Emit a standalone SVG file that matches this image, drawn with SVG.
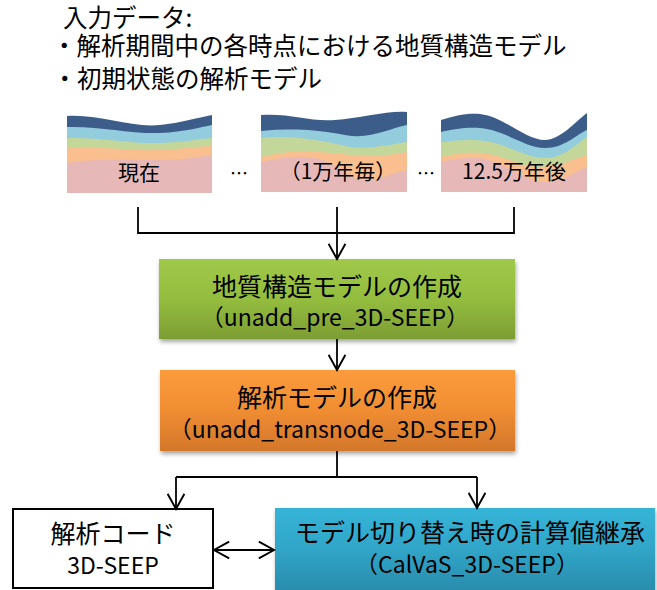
<svg xmlns="http://www.w3.org/2000/svg" width="657" height="590" viewBox="0 0 657 590">
  <style>
    text { font-family: "Noto Sans CJK JP", "Noto Sans", sans-serif; fill: #000; }
    .title { font-size: 24.5px; }
    .box-title { font-size: 25px; text-anchor: middle; }
    .box-sub { font-size: 23px; text-anchor: middle; }
    .panel-label { font-size: 21px; text-anchor: middle; }
    .dots { font-size: 18px; text-anchor: middle; }
    .conn { fill: none; stroke: #000; stroke-width: 1.8; }
    .navy { fill: #3c5d8a; }
    .sky { fill: #93cddd; }
    .lime { fill: #c4d79b; }
    .peach { fill: #f9bf8f; }
    .rose { fill: #e6b9b8; }
  </style>
  <defs>
    <marker id="arrow" markerUnits="userSpaceOnUse" markerWidth="18" markerHeight="18" viewBox="0 0 16 16" refX="14" refY="8" orient="auto-start-reverse">
      <path d="M0.5,0.5 L14,8 L0.5,15.5" fill="none" stroke="#000" stroke-width="1.7"/>
    </marker>
    <linearGradient id="gGreen" x1="0" y1="0" x2="0" y2="1">
      <stop offset="0" stop-color="#a0c94a"/>
      <stop offset="0.5" stop-color="#94bd3f"/>
      <stop offset="1" stop-color="#7d9d33"/>
    </linearGradient>
    <linearGradient id="gOrange" x1="0" y1="0" x2="0" y2="1">
      <stop offset="0" stop-color="#fc9c3c"/>
      <stop offset="0.5" stop-color="#f08d32"/>
      <stop offset="1" stop-color="#d3772b"/>
    </linearGradient>
    <linearGradient id="gBlue" x1="0" y1="0" x2="0" y2="1">
      <stop offset="0" stop-color="#36b4d8"/>
      <stop offset="0.5" stop-color="#30a5c7"/>
      <stop offset="1" stop-color="#2a8bab"/>
    </linearGradient>
    <filter id="shadow" x="-10%" y="-10%" width="120%" height="130%">
      <feDropShadow dx="1" dy="3" stdDeviation="2" flood-color="#000" flood-opacity="0.35"/>
    </filter>
    <clipPath id="clip1"><rect x="67" y="100" width="145" height="93"/></clipPath>
    <clipPath id="clip2"><rect x="261" y="100" width="146" height="92"/></clipPath>
    <clipPath id="clip3"><rect x="441" y="100" width="146" height="92"/></clipPath>
  </defs>

  <!-- input data heading -->
  <g id="input-heading">
    <text class="title" x="63" y="27">入力データ:</text>
    <text class="title" x="52" y="55" font-size="25.6">・解析期間中の各時点における地質構造モデル</text>
    <text class="title" x="52.5" y="88">・初期状態の解析モデル</text>
  </g>

  <!-- geological cross-section: present -->
  <g id="section-present" clip-path="url(#clip1)">
    <path class="navy" d="M67,116 C100,114 130,128 160,125 C180,123 200,117 212,115 L212,193 L67,193 Z"/>
    <path class="sky" d="M67,127 C100,126 130,134 160,133 C185,132 200,127 212,125 L212,193 L67,193 Z"/>
    <path class="lime" d="M67,138 C100,137 130,144 160,143 C185,142 200,139 212,138 L212,193 L67,193 Z"/>
    <path class="peach" d="M67,148 C100,146 130,151 160,150 C185,149 200,146 212,146 L212,193 L67,193 Z"/>
    <path class="rose" d="M67,163 C100,158 130,160 160,160 C185,160 200,156 212,155 L212,193 L67,193 Z"/>
    <text class="panel-label" x="139" y="180">現在</text>
  </g>

  <text class="dots" x="239" y="180">…</text>

  <!-- geological cross-section: every 10,000 years -->
  <g id="section-interval" clip-path="url(#clip2)">
    <path class="navy" d="M261,115 C290,113 310,122 335,120 C360,118 390,110 407,112 L407,192 L261,192 Z"/>
    <path class="sky" d="M261,131 C290,128 320,130 345,135 C370,140 390,128 407,125 L407,192 L261,192 Z"/>
    <path class="lime" d="M261,138 C290,135 320,140 345,146 C365,150 390,145 407,142 L407,192 L261,192 Z"/>
    <path class="peach" d="M261,157 C285,152 300,150 320,152 C350,155 380,158 407,152 L407,192 L261,192 Z"/>
    <path class="rose" d="M261,162 C280,158 295,155 315,158 C340,163 350,183 370,180 C385,178 395,172 407,170 L407,192 L261,192 Z"/>
    <text class="panel-label" x="338" y="179">（1万年毎）</text>
  </g>

  <text class="dots" x="426" y="180">…</text>

  <!-- geological cross-section: after 125,000 years -->
  <g id="section-future" clip-path="url(#clip3)">
    <path class="navy" d="M441,120 C455,116 465,113 480,114 C505,117 525,140 545,140 C560,140 575,122 587,113 L587,192 L441,192 Z"/>
    <path class="sky" d="M441,132 C455,129 465,127 480,128 C505,130 525,148 545,148 C565,148 575,135 587,130 L587,192 L441,192 Z"/>
    <path class="lime" d="M441,142 C458,140 470,139 485,141 C510,145 525,158 545,158 C565,158 577,143 587,137 L587,192 L441,192 Z"/>
    <path class="peach" d="M441,157 C455,154 465,152 480,153 C505,155 520,167 540,167 C560,167 575,158 587,155 L587,192 L441,192 Z"/>
    <path class="rose" d="M441,162 C455,159 465,157 480,158 C505,162 525,182 545,182 C565,182 577,170 587,167 L587,192 L441,192 Z"/>
    <text class="panel-label" x="514" y="179">12.5万年後</text>
  </g>

  <!-- processing steps -->
  <g id="geo-model">
    <rect x="159" y="259" width="356" height="80" fill="url(#gGreen)" filter="url(#shadow)"/>
    <text class="box-title" x="337" y="296">地質構造モデルの作成</text>
    <text class="box-sub" x="335" y="326">（unadd_pre_3D-SEEP）</text>
  </g>

  <g id="analysis-model">
    <rect x="160" y="370" width="355" height="81" fill="url(#gOrange)" filter="url(#shadow)"/>
    <text class="box-title" x="337" y="407">解析モデルの作成</text>
    <text class="box-sub" x="340" y="438">（unadd_transnode_3D-SEEP）</text>
  </g>

  <g id="analysis-code">
    <rect x="13" y="509" width="200" height="79" fill="#fff" stroke="#000" stroke-width="2"/>
    <text class="box-title" x="113" y="543">解析コード</text>
    <text class="box-sub" x="113" y="574">3D-SEEP</text>
  </g>

  <g id="value-carryover">
    <rect x="275" y="508" width="380" height="84" fill="url(#gBlue)" filter="url(#shadow)"/>
    <text class="box-title" x="470" y="542">モデル切り替え時の計算値継承</text>
    <text class="box-sub" x="467" y="573">（CalVaS_3D-SEEP）</text>
  </g>

  <!-- connectors -->
  <g id="connectors">
    <polyline class="conn" points="138,207 138,233 514,233 514,207"/>
    <line class="conn" x1="337" y1="207" x2="337" y2="259" marker-end="url(#arrow)"/>
    <line class="conn" x1="337" y1="339" x2="337" y2="370" marker-end="url(#arrow)"/>
    <polyline class="conn" points="337,451 337,477"/>
    <polyline class="conn" points="176,477 477,477"/>
    <line class="conn" x1="176" y1="477" x2="176" y2="509" marker-end="url(#arrow)"/>
    <line class="conn" x1="477" y1="477" x2="477" y2="508" marker-end="url(#arrow)"/>
    <line class="conn" x1="214" y1="550" x2="274" y2="550" marker-start="url(#arrow)" marker-end="url(#arrow)"/>
  </g>
</svg>
